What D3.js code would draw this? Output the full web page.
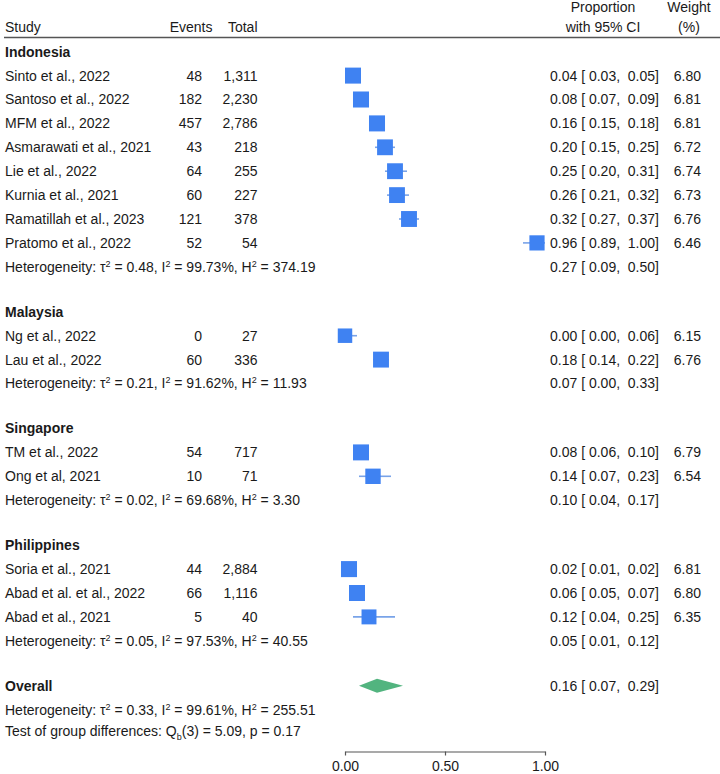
<!DOCTYPE html>
<html>
<head>
<meta charset="utf-8">
<script src="https://cdn.jsdelivr.net/npm/d3@7"></script>
<style>
  html, body { margin: 0; padding: 0; background: #fff; }
  svg text { font-family: "Liberation Sans", Arial, Helvetica, sans-serif; font-size: 14px; fill: #1a1a1a; white-space: pre; }
</style>
</head>
<body>
<svg id="chart" width="720" height="774"></svg>
<script>
// ---------------- DATA ----------------
const groups = ["Indonesia", "Malaysia", "Singapore", "Philippines"];
const studies = [
  "Sinto et al., 2022", "Santoso et al., 2022", "MFM et al., 2022", "Asmarawati et al., 2021",
  "Lie et al., 2022", "Kurnia et al., 2021", "Ramatillah et al., 2023", "Pratomo et al., 2022",
  "Ng et al., 2022", "Lau et al., 2022",
  "TM et al., 2022", "Ong et al, 2021",
  "Soria et al., 2021", "Abad et al. et al., 2022", "Abad et al., 2021"
];
const studyGroup = [0, 0, 0, 0, 0, 0, 0, 0, 1, 1, 2, 2, 3, 3, 3];
const events = [48, 182, 457, 43, 64, 60, 121, 52, 0, 60, 54, 10, 44, 66, 5];
const totals = [1311, 2230, 2786, 218, 255, 227, 378, 54, 27, 336, 717, 71, 2884, 1116, 40];
const props  = [0.04, 0.08, 0.16, 0.20, 0.25, 0.26, 0.32, 0.96, 0.00, 0.18, 0.08, 0.14, 0.02, 0.06, 0.12];
const lower  = [0.03, 0.07, 0.15, 0.15, 0.20, 0.21, 0.27, 0.89, 0.00, 0.14, 0.06, 0.07, 0.01, 0.05, 0.04];
const upper  = [0.05, 0.09, 0.18, 0.25, 0.31, 0.32, 0.37, 1.00, 0.06, 0.22, 0.10, 0.23, 0.02, 0.07, 0.25];
const weights = [6.80, 6.81, 6.81, 6.72, 6.74, 6.73, 6.76, 6.46, 6.15, 6.76, 6.79, 6.54, 6.81, 6.80, 6.35];

const groupEst = [0.27, 0.07, 0.10, 0.05];
const groupLo  = [0.09, 0.00, 0.04, 0.01];
const groupHi  = [0.50, 0.33, 0.17, 0.12];
const groupTau2 = ["0.48", "0.21", "0.02", "0.05"];
const groupI2   = ["99.73", "91.62", "69.68", "97.53"];
const groupH2   = ["374.19", "11.93", "3.30", "40.55"];

const overallEst = 0.16, overallLo = 0.07, overallHi = 0.29;
const overallTau2 = "0.33", overallI2 = "99.61", overallH2 = "255.51";
const testQ = "5.09", testDf = 3, testP = "0.17";

const xTicks = [0, 0.5, 1];

// ---------------- LAYOUT ----------------
const svg = d3.select("#chart");
const pitch = 23.9, spacer = 20.5;
const x = d3.scaleLinear().domain([0, 1]).range([345, 545]);
const f2 = d3.format(".2f");
const fComma = d3.format(",");
const ciText = (e, l, u) => `${f2(e)} [ ${f2(l)},  ${f2(u)}]`;

// build row list
const rows = [];
groups.forEach((g, gi) => {
  rows.push({type: "group", label: g});
  studies.forEach((s, i) => { if (studyGroup[i] === gi) rows.push({type: "study", i}); });
  rows.push({type: "het", gi});
  rows.push({type: "gap"});
});
rows.push({type: "overall"});
rows.push({type: "ohet"});
rows.push({type: "test"});

let yCur = 51.7;
rows.forEach(r => {
  if (r.type === "gap") { r.y = null; yCur += spacer + 0.6; return; }
  r.y = yCur;
  yCur += (r.type === "ohet") ? 21.3 : pitch;
});

const blue = "#3f82f2", ciBlue = "#79a3e8", green = "#52b47f";

// header
const hdr = svg.append("g");
hdr.append("text").attr("x", 5).attr("y", 26.7).attr("dy", "0.35em").text("Study");
hdr.append("text").attr("x", 212.5).attr("y", 26.7).attr("dy", "0.35em").attr("text-anchor", "end").text("Events");
hdr.append("text").attr("x", 257.5).attr("y", 26.7).attr("dy", "0.35em").attr("text-anchor", "end").text("Total");
hdr.append("text").attr("x", 603).attr("y", 7.5).attr("dy", "0.35em").attr("text-anchor", "middle").text("Proportion");
hdr.append("text").attr("x", 603).attr("y", 26.7).attr("dy", "0.35em").attr("text-anchor", "middle").text("with 95% CI");
hdr.append("text").attr("x", 689).attr("y", 7.5).attr("dy", "0.35em").attr("text-anchor", "middle").text("Weight");
hdr.append("text").attr("x", 689).attr("y", 26.7).attr("dy", "0.35em").attr("text-anchor", "middle").text("(%)");
hdr.append("line").attr("x1", 4).attr("x2", 720).attr("y1", 37.5).attr("y2", 37.5)
  .attr("stroke", "#555").attr("stroke-width", 1.4);

const body = svg.append("g");
const sup2 = (sel, parts) => {
  // parts: array of [text, isSup]
  parts.forEach(([t, s]) => {
    const ts = sel.append("tspan").text(t);
    if (s) ts.attr("font-size", "9px").attr("dy", "-5");
    else if (s === false) ts.attr("dy", "5");
  });
};
const hetLabel = (sel, tau, i2, h2) => {
  sel.text(null);
  sel.append("tspan").text("Heterogeneity: \u03C4");
  sel.append("tspan").attr("font-size", "9px").attr("dy", -5).text("2");
  sel.append("tspan").attr("dy", 5).text(` = ${tau}, I`);
  sel.append("tspan").attr("font-size", "9px").attr("dy", -5).text("2");
  sel.append("tspan").attr("dy", 5).text(` = ${i2}%, H`);
  sel.append("tspan").attr("font-size", "9px").attr("dy", -5).text("2");
  sel.append("tspan").attr("dy", 5).text(` = ${h2}`);
};

rows.forEach(r => {
  if (r.y === null) return;
  const y = r.y;
  if (r.type === "group") {
    body.append("text").attr("x", 5).attr("y", y).attr("dy", "0.35em").attr("font-weight", "bold").text(r.label);
  } else if (r.type === "study") {
    const i = r.i;
    body.append("text").attr("x", 5).attr("y", y).attr("dy", "0.35em").text(studies[i]);
    body.append("text").attr("x", 202).attr("y", y).attr("dy", "0.35em").attr("text-anchor", "end").text(events[i]);
    body.append("text").attr("x", 257.5).attr("y", y).attr("dy", "0.35em").attr("text-anchor", "end").text(fComma(totals[i]));
    body.append("line").attr("x1", x(lower[i])).attr("x2", x(upper[i])).attr("y1", y).attr("y2", y)
      .attr("stroke", ciBlue).attr("stroke-width", 1.6);
    const side = 16 * weights[i] / 6.8;
    body.append("rect").attr("x", x(props[i]) - side / 2).attr("y", y - side / 2)
      .attr("width", side).attr("height", side).attr("fill", blue);
    body.append("text").attr("x", 550).attr("y", y).attr("dy", "0.35em").text(ciText(props[i], lower[i], upper[i]));
    body.append("text").attr("x", 701).attr("y", y).attr("dy", "0.35em").attr("text-anchor", "end").text(f2(weights[i]));
  } else if (r.type === "het") {
    const t = body.append("text").attr("x", 5).attr("y", y).attr("dy", "0.35em");
    hetLabel(t, groupTau2[r.gi], groupI2[r.gi], groupH2[r.gi]);
    body.append("text").attr("x", 550).attr("y", y).attr("dy", "0.35em").text(ciText(groupEst[r.gi], groupLo[r.gi], groupHi[r.gi]));
  } else if (r.type === "overall") {
    body.append("text").attr("x", 5).attr("y", y).attr("dy", "0.35em").attr("font-weight", "bold").text("Overall");
    const h = 7;
    body.append("path")
      .attr("d", `M${x(overallLo)},${y} L${x(overallEst)},${y - h} L${x(overallHi)},${y} L${x(overallEst)},${y + h} Z`)
      .attr("fill", green);
    body.append("text").attr("x", 550).attr("y", y).attr("dy", "0.35em").text(ciText(overallEst, overallLo, overallHi));
  } else if (r.type === "ohet") {
    const t = body.append("text").attr("x", 5).attr("y", y).attr("dy", "0.35em");
    hetLabel(t, overallTau2, overallI2, overallH2);
  } else if (r.type === "test") {
    const t = body.append("text").attr("x", 5).attr("y", y).attr("dy", "0.35em");
    t.append("tspan").text("Test of group differences: Q");
    t.append("tspan").attr("font-size", "9px").attr("dy", 4).text("b");
    t.append("tspan").attr("dy", -4).text(`(${testDf}) = ${testQ}, p = ${testP}`);
  }
});

// axis
const axis = d3.axisBottom(x).tickValues(xTicks).tickFormat(d3.format(".2f")).tickSize(4).tickSizeOuter(0);
const ag = svg.append("g").attr("transform", "translate(0,751.5)").call(axis);
ag.select(".domain").attr("stroke", "#555").attr("stroke-width", 1.2);
ag.selectAll(".tick line").attr("stroke", "#555").attr("stroke-width", 1.2);
ag.selectAll(".tick text").attr("font-size", "14px").attr("fill", "#1a1a1a")
  .attr("font-family", "Liberation Sans, Arial, sans-serif").attr("dy", "0.9em");
</script>
</body>
</html>
